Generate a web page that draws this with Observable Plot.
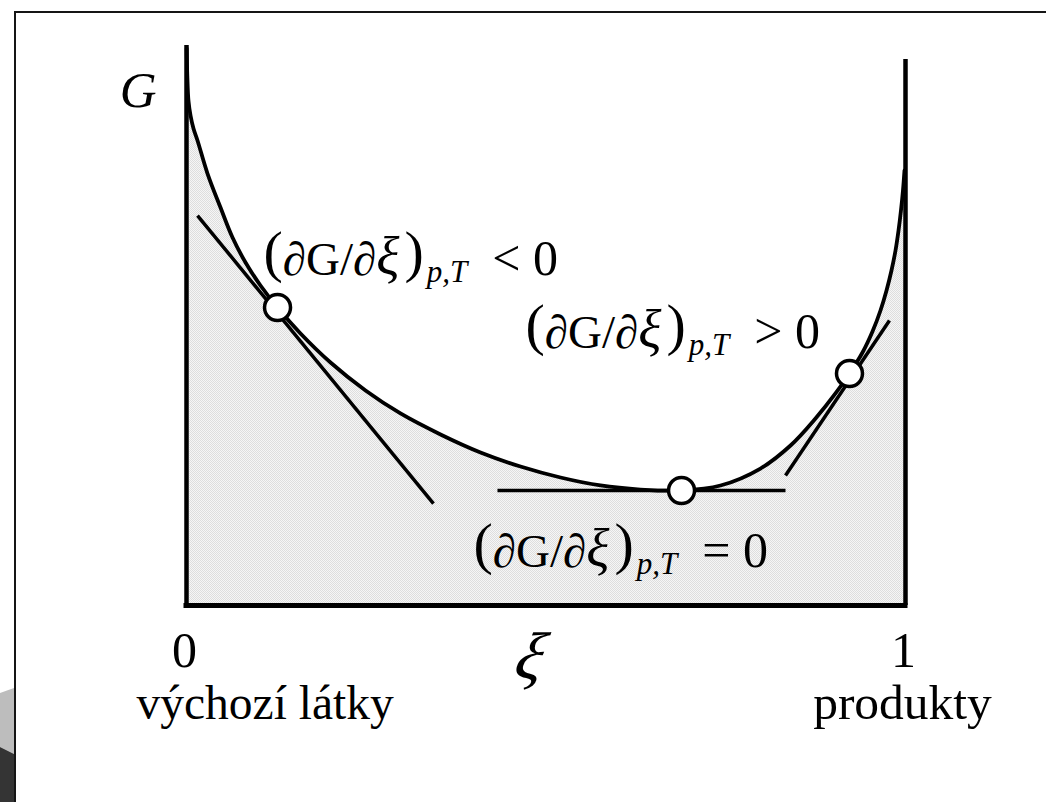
<!DOCTYPE html>
<html>
<head>
<meta charset="utf-8">
<script src="https://cdn.jsdelivr.net/npm/d3@7"></script>
<script src="https://cdn.jsdelivr.net/npm/@observablehq/plot@0.6"></script>
<style>
  html, body { margin: 0; padding: 0; background: #fff; overflow: hidden; }
  #wrap { position: relative; width: 1046px; height: 802px; }
  #border { position: absolute; left: 14px; top: 11px; right: -20px; bottom: -20px;
            border-top: 2px solid #151515; border-left: 2px solid #151515; }
  .corner-light { position: absolute; left: 0; top: 686px; width: 14px; height: 70px; background: #bdbdbd;
                  clip-path: polygon(0 7px, 14px 2px, 14px 68px, 0 61px); }
  .corner-dark { position: absolute; left: 0; top: 745px; width: 14px; height: 57px; background: #343434;
                 clip-path: polygon(0 2px, 14px 9px, 14px 57px, 0 57px); }
  #chart { position: absolute; left: 0; top: 0; }
</style>
</head>
<body>
<div id="wrap">
  <div class="corner-light"></div>
  <div class="corner-dark"></div>
  <div id="border"></div>
  <div id="chart"></div>
</div>
<script>
// Gibbs energy G along the extent of reaction ξ (arbitrary units)
const xiValues = [0.0003, 0.0011, 0.0028, 0.0056, 0.0097, 0.0153, 0.0292, 0.0473, 0.0640, 0.0821,
                  0.1029, 0.1266, 0.1586, 0.2003, 0.2490, 0.2976, 0.3533, 0.4089, 0.4645, 0.5202,
                  0.5758, 0.6314, 0.6885, 0.7427, 0.7983, 0.8401, 0.8748, 0.9026, 0.9221, 0.9402,
                  0.9541, 0.9652, 0.9736, 0.9805, 0.9861, 0.9903, 0.9937, 0.9965, 0.9986];
const gValues  = [99.46, 94.64, 90.04, 87.50, 85.18, 83.04, 77.14, 71.07, 65.71, 61.25,
                  57.14, 53.21, 48.57, 43.39, 38.39, 34.29, 30.54, 27.32, 24.82, 22.86,
                  21.43, 20.71, 20.54, 21.43, 24.46, 28.57, 33.39, 37.86, 41.43, 45.18,
                  48.93, 52.68, 56.25, 59.82, 63.39, 66.96, 70.54, 74.11, 77.68];

// points where the tangents touch the curve
const touchXi = [0.1266, 0.6885, 0.9221];
const touchG  = [53.21, 20.54, 41.43];

// tangent segments (start and end)
const tangentXi1 = [0.0153, 0.4325, 0.8331];
const tangentG1  = [69.64, 20.54, 23.21];
const tangentXi2 = [0.3435, 0.8331, 0.9777];
const tangentG2  = [18.21, 20.54, 50.89];

// slope annotations
const slopeSigns = ["< 0", "> 0", "= 0"];
const labelXi = [0.1071, 0.4715, 0.3992];
const labelG  = [58.93, 46.07, 6.79];

// ξ axis ends
const xTicks = [0, 1];
const xNames = ["výchozí látky", "produkty"];
const axisTopG = [100, 97.5];

const curve = xiValues.map((x, i) => ({xi: x, G: gValues[i]}));
const touches = touchXi.map((x, i) => ({xi: x, G: touchG[i]}));
const tangents = tangentXi1.map((x, i) => ({x1: x, y1: tangentG1[i], x2: tangentXi2[i], y2: tangentG2[i]}));
const labels = slopeSigns.map((s, i) => ({xi: labelXi[i], G: labelG[i], text: `(∂G/∂ξ )p,T ${s}`}));
const walls = xTicks.map((x, i) => ({xi: x, top: axisTopG[i]}));

const serif = "'Liberation Serif', 'Times New Roman', Times, serif";

const chart = Plot.plot({
  width: 1046,
  height: 802,
  marginLeft: 186,
  marginRight: 141,
  marginTop: 45,
  marginBottom: 197,
  x: {domain: [0, 1], label: null},
  y: {domain: [0, 100], axis: null, label: null},
  style: {fontFamily: serif, background: "transparent", overflow: "visible", color: "#000"},
  marks: [
    Plot.areaY(curve, {x: "xi", y: "G", curve: "catmull-rom", fill: "url(#gibbsFill)"}),
    Plot.ruleX(walls, {x: "xi", y1: 0, y2: "top", stroke: "#000", strokeWidth: 4.5}),
    Plot.ruleY([0], {x1: 0, x2: 1, stroke: "#000", strokeWidth: 5, strokeLinecap: "square"}),
    Plot.line(curve, {x: "xi", y: "G", curve: "catmull-rom", stroke: "#000", strokeWidth: 3.8}),
    Plot.link(tangents, {x1: "x1", y1: "y1", x2: "x2", y2: "y2", stroke: "#000", strokeWidth: 3.5}),
    Plot.dot(touches, {x: "xi", y: "G", r: 13, fill: "#fff", stroke: "#000", strokeWidth: 3.5}),
    Plot.text(labels, {x: "xi", y: "G", text: "text", textAnchor: "start", lineAnchor: "bottom",
                       fontSize: 47, fill: "#000"}),
    Plot.axisX({ticks: xTicks, tickSize: 0, tickPadding: 25.5, fontSize: 50, label: null, dx: -2,
                tickFormat: d => String(d), fill: "#000"}),
    Plot.text([xNames[0]], {x: xTicks[0], frameAnchor: "bottom", dy: 113, dx: -50, text: d => d,
                            textAnchor: "start", lineAnchor: "bottom", fontSize: 47.5, fill: "#000"}),
    Plot.text([xNames[1]], {x: xTicks[1], frameAnchor: "bottom", dy: 113, dx: -3, text: d => d,
                            textAnchor: "middle", lineAnchor: "bottom", fontSize: 49.5, fill: "#000"}),
    Plot.text(["ξ"], {frameAnchor: "bottom", dx: -20, dy: 72, text: d => d, fontStyle: "italic",
                      lineAnchor: "bottom", fontSize: 66, fill: "#000", className: "xi-label"}),
    Plot.text(["G"], {frameAnchor: "top-left", dx: -30, dy: 61, text: d => d, fontStyle: "italic",
                      textAnchor: "end", lineAnchor: "bottom", fontSize: 51, fill: "#000"})
  ]
});

// light dotted fill under the curve
d3.select(chart).insert("defs", ":first-child").html(
  `<pattern id="gibbsFill" width="2" height="2" patternUnits="userSpaceOnUse">
     <rect width="2" height="2" fill="#f6f6f6"/>
     <rect width="1" height="1" fill="#dedede"/>
     <rect x="1" y="1" width="1" height="1" fill="#dedede"/>
   </pattern>`);

// slant the large ξ below the axis
d3.select(chart).selectAll(".xi-label text").attr("transform", function () {
  return `${this.getAttribute("transform") || ""} skewX(-14)`;
});

// typeset the derivative labels: tall brackets, italic ξ and a p,T subscript
d3.select(chart).selectAll("text").each(function () {
  const m = this.textContent.match(/^\(∂G\/∂ξ \)p,T (.+)$/);
  if (!m) return;
  const t = d3.select(this);
  t.text(null);
  t.append("tspan").attr("font-size", 58).attr("dy", -4).text("(");
  t.append("tspan").attr("dy", 4).text("∂G/∂");
  t.append("tspan").attr("font-style", "italic").attr("font-size", 54).text("ξ");
  t.append("tspan").attr("font-size", 58).attr("dx", 5).attr("dy", -4).text(")");
  t.append("tspan").attr("font-size", 31).attr("font-style", "italic").attr("dx", 3).attr("dy", 11).text("p,T");
  t.append("tspan").attr("font-size", 50).attr("dx", 25).attr("dy", -7).text(m[1]);
});

document.getElementById("chart").appendChild(chart);
</script>
</body>
</html>
